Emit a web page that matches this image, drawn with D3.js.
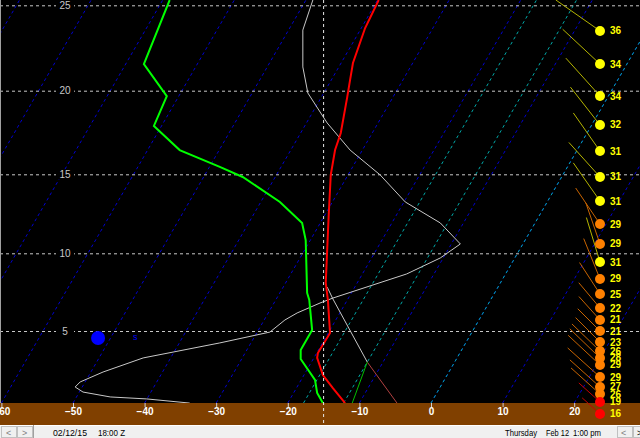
<!DOCTYPE html>
<html>
<head>
<meta charset="utf-8">
<script src="https://cdnjs.cloudflare.com/ajax/libs/d3/7.8.5/d3.min.js"></script>
<style>
  body { margin: 0; background: #f0f0f0; overflow: hidden; }
  svg { display: block; }
  .grid line { stroke: #c8c8c8; stroke-dasharray: 3,3; }
  .grid path { display: none; }
  .x.axis path { display: none; }
  .x.axis line { stroke: #d0d0d0; }
  .x.axis text { fill: #fff; font: bold 10px "Liberation Sans", Arial, sans-serif; }
  .alt-label { fill: #c8c8c8; font: 10px "Liberation Sans", Arial, sans-serif; }
  .wind-label { fill: #ffff00; font: bold 10px "Liberation Sans", Arial, sans-serif; }
  .status { fill: #000; font: 9px "Liberation Sans", Arial, sans-serif; }
</style>
</head>
<body>
<div id="skewt"></div>
<script>
// axis ticks
var tempTicks = [-60, -50, -40, -30, -20, -10, 0, 10, 20];
var altTicks = [5, 10, 15, 20, 25];
// skewed isotherms every 10 C, plus 0F / 10F / 32F lines
var isotherms = d3.range(-100, 30, 10);
var cyanIsotherms = [-17.8, -12.2, 0];
var markerIsotherm = -15;

// profiles: temperature read on the bottom axis (C) and altitude (kft)
var greenTemp = [-36.5, -40.1, -36.9, -38.7, -35.1, -29.5, -26.3, -21.1, -18.0, -17.5, -17.3, -17.0, -16.6, -18.2, -18.2, -16.2, -15.9, -15.1];
var greenAlt  = [25.31, 21.56, 19.68, 17.89, 16.45, 15.44, 14.83, 13.25, 11.92, 10.84, 7.45, 7.0, 5.06, 3.76, 3.17, 1.80, 0.95, 0.29];

var redTemp = [-7.3, -9.2, -10.9, -11.3, -11.7, -12.6, -13.4, -14.0, -14.3, -14.5, -14.7, -14.4, -14.1, -15.8, -15.9, -15.1, -13.7, -12.0];
var redAlt  = [25.31, 23.67, 21.62, 20.63, 19.62, 17.47, 16.45, 14.96, 12.30, 10.21, 8.09, 7.0, 4.87, 3.56, 3.24, 2.12, 1.27, 0.29];

var whiteTemp = [-16.5, -17.9, -17.9, -17.2, -14.5, -11.3, -7.1, -3.6, 1.3, 4.1, 1.3, -3.4, -13.7, -15.5, -18.7, -20.4, -22.5, -29.5, -40.2, -45.8, -49.0, -49.7, -48.6, -44.8, -39.7, -33.7];
var whiteAlt  = [25.31, 23.55, 21.39, 19.86, 18.07, 16.45, 14.96, 13.25, 11.92, 10.59, 9.70, 8.67, 7.12, 6.80, 6.16, 5.71, 4.93, 4.22, 3.24, 2.32, 1.67, 1.34, 1.01, 0.69, 0.56, 0.29];

// surface parcel
var parcelTemp = [-14.5, -13.7, -8.9];
var parcelAlt  = [7.83, 7.06, 2.97];
var dryTemp = [-8.9, -4.75];
var dryAlt  = [2.97, 0.29];
var dewTemp = [-11.0, -8.9];
var dewAlt  = [0.29, 2.97];

// marker
var markerTemp = [-46.5];
var markerAlt = [4.54];

// wind column
var windAlt   = [23.50, 21.56, 19.68, 17.95, 16.39, 14.83, 13.31, 11.85, 10.59, 9.44, 8.35, 7.38, 6.48, 5.71, 5.0, 4.28, 3.69, 3.24, 2.78, 1.99, 1.34, 0.88, 0.36, -0.42];
var windSpeed = [36, 34, 34, 32, 31, 31, 31, 29, 29, 31, 29, 25, 22, 21, 21, 23, 26, 28, 29, 29, 27, 26, 19, 16];
var windDir   = [305, 313, 318, 322, 325, 318, 325, 326, 341, 343, 338, 327, 320, 318, 315, 315, 314, 314, 313, 312, 312, 312, 312, 312];

// status bar texts
var statusLeft = ["02/12/15", "18:00 Z"];
var statusRight = ["Thursday", "Feb 12", "1:00 pm"];

var width = 640, height = 438, plotBottom = 403, bandBottom = 425;
var skew = 0.578;

// set the ranges
var x = d3.scaleLinear().domain([-60, 20]).range([1.4, 574.2]);
var y = d3.scaleLinear().domain([0, 5, 10, 15, 20, 25]).range([407.5, 331, 253.3, 174.3, 90.7, 5.3]);
var stickLen = d3.scaleLinear().domain([0, 40]).range([0, 60]);

function windColor(s) { return s >= 30 ? "#ffff00" : (s >= 20 ? "#ff8000" : "#ff0000"); }
function stickColor(s) { return s >= 30 ? "#b4b400" : (s >= 20 ? "#c86400" : "#c80000"); }

var svg = d3.select("#skewt").append("svg")
    .attr("width", width)
    .attr("height", height);

svg.append("clipPath").attr("id", "plot-clip")
  .append("rect").attr("width", width).attr("height", plotBottom);

svg.append("rect")
    .attr("width", width).attr("height", plotBottom)
    .style("fill", "#000");

var plot = svg.append("g").attr("clip-path", "url(#plot-clip)");

// skewed isotherm line
function isoLine(t) {
  var x0 = x(t);
  return "M" + x0 + "," + plotBottom + "L" + (x0 + skew * (plotBottom + 20)) + ",-20";
}

plot.selectAll(".iso")
    .data(isotherms)
  .enter().append("path")
    .attr("class", "iso")
    .attr("d", isoLine)
    .style("stroke", "#0000d0")
    .style("stroke-dasharray", "3,3")
    .style("fill", "none");

plot.selectAll(".iso-c")
    .data(cyanIsotherms)
  .enter().append("path")
    .attr("class", "iso-c")
    .attr("d", isoLine)
    .style("stroke", "#00a8a8")
    .style("stroke-dasharray", "3,3")
    .style("fill", "none");

//draw y grid
plot.append("g")
    .attr("class", "grid")
    .call(
      d3.axisLeft(y)
        .tickValues(altTicks)
        .tickSize(-width)
        .tickFormat("")
    );

// altitude labels
var altLab = plot.selectAll(".alt")
    .data(altTicks)
  .enter().append("g")
    .attr("class", "alt")
    .attr("transform", function(d) { return "translate(65," + y(d) + ")"; });
altLab.append("rect")
    .attr("x", -9).attr("y", -5).attr("width", 18).attr("height", 10)
    .style("fill", "#000");
altLab.append("text")
    .attr("class", "alt-label")
    .attr("text-anchor", "middle")
    .attr("dy", "0.35em")
    .text(function(d) { return d; });

var line = d3.line()
    .x(function(d) { return x(d[0]); })
    .y(function(d) { return y(d[1]); });

// white profile
plot.append("path")
    .datum(d3.zip(whiteTemp, whiteAlt))
    .attr("d", line)
    .style("stroke", "#c8c8c8")
    .style("fill", "none");

plot.append("path")
    .datum(d3.zip(parcelTemp, parcelAlt))
    .attr("d", line)
    .style("stroke", "#c8c8c8")
    .style("fill", "none");

plot.append("path")
    .datum(d3.zip(dryTemp, dryAlt))
    .attr("d", line)
    .style("stroke", "#b04040")
    .style("fill", "none");

plot.append("path")
    .datum(d3.zip(dewTemp, dewAlt))
    .attr("d", line)
    .style("stroke", "#00c000")
    .style("fill", "none");

// temperature
plot.append("path")
    .datum(d3.zip(redTemp, redAlt))
    .attr("d", line)
    .style("stroke", "#ff0000")
    .style("stroke-width", 2)
    .style("fill", "none");

// dewpoint
plot.append("path")
    .datum(d3.zip(greenTemp, greenAlt))
    .attr("d", line)
    .style("stroke", "#00ff00")
    .style("stroke-width", 2)
    .style("fill", "none");

// blue marker
plot.selectAll(".marker")
    .data(d3.zip(markerTemp, markerAlt))
  .enter().append("circle")
    .attr("cx", function(d) { return x(d[0]); })
    .attr("cy", function(d) { return y(d[1]); })
    .attr("r", 7)
    .style("fill", "#0000ff");
plot.selectAll(".marker-lab")
    .data(d3.zip(markerTemp, markerAlt))
  .enter().append("text")
    .attr("x", function(d) { return x(d[0]) + 35; })
    .attr("y", function(d) { return y(d[1]) + 2; })
    .style("fill", "#0000ff")
    .style("font", "9px 'Liberation Sans', Arial, sans-serif")
    .text("s");

// left border
svg.append("line")
    .attr("x1", 0.5).attr("x2", 0.5).attr("y1", 0).attr("y2", plotBottom)
    .style("stroke", "#a0a0a0");

// ground band
svg.append("rect")
    .attr("y", plotBottom).attr("width", width).attr("height", bandBottom - plotBottom)
    .style("fill", "#804000");

//draw x axis
svg.append("g")
    .attr("class", "x axis")
    .attr("transform", "translate(0," + plotBottom + ")")
    .call(
      d3.axisBottom(x)
        .tickValues(tempTicks)
        .tickSize(4)
        .tickPadding(1)
        .tickFormat(d3.format("d"))
    );

// marker isotherm
svg.append("line")
    .attr("x1", x(markerIsotherm)).attr("x2", x(markerIsotherm))
    .attr("y1", 0).attr("y2", bandBottom)
    .style("stroke", "#e8e8e8")
    .style("stroke-dasharray", "3,3");

// winds
var winds = d3.range(windAlt.length).map(function(i) {
  return { alt: windAlt[i], speed: windSpeed[i], dir: windDir[i] };
});
var windX = 600;

var wg = svg.append("g").attr("class", "winds");
wg.selectAll(".stick")
    .data(winds)
  .enter().append("line")
    .attr("x1", windX)
    .attr("y1", function(d) { return y(d.alt); })
    .attr("x2", function(d) { return windX + Math.sin(d.dir * Math.PI / 180) * stickLen(d.speed); })
    .attr("y2", function(d) { return y(d.alt) - Math.cos(d.dir * Math.PI / 180) * stickLen(d.speed); })
    .style("stroke", function(d) { return stickColor(d.speed); });

wg.selectAll(".dot")
    .data(winds)
  .enter().append("circle")
    .attr("cx", windX)
    .attr("cy", function(d) { return y(d.alt); })
    .attr("r", 5)
    .style("fill", function(d) { return windColor(d.speed); });

wg.selectAll(".wind-label")
    .data(winds)
  .enter().append("text")
    .attr("class", "wind-label")
    .attr("x", windX + 10)
    .attr("y", function(d) { return y(d.alt); })
    .attr("dy", "0.35em")
    .text(function(d) { return d.speed; });

// status bar
var bar = svg.append("g").attr("transform", "translate(0," + bandBottom + ")");
bar.append("rect").attr("width", width).attr("height", height - bandBottom).style("fill", "#f0f0f0");
bar.append("line").attr("x1", 0).attr("x2", width).attr("y1", 0.5).attr("y2", 0.5).style("stroke", "#ffffff");
bar.append("rect").attr("x", 1.5).attr("y", 1.5).attr("width", 15).attr("height", 11).style("fill", "none").style("stroke", "#c0c0c0");
bar.append("rect").attr("x", 17.5).attr("y", 1.5).attr("width", 15).attr("height", 11).style("fill", "none").style("stroke", "#c0c0c0");
bar.append("rect").attr("x", 617.5).attr("y", 1.5).attr("width", 15).attr("height", 11).style("fill", "none").style("stroke", "#c0c0c0");
bar.append("rect").attr("x", 633.5).attr("y", 1.5).attr("width", 15).attr("height", 11).style("fill", "none").style("stroke", "#c0c0c0");
bar.append("line").attr("x1", 33.5).attr("x2", 33.5).attr("y1", 0).attr("y2", 13).style("stroke", "#a0a0a0");
bar.append("text").attr("class", "status").attr("x", 6).attr("y", 10.5).style("fill", "#808080").text("<");
bar.append("text").attr("class", "status").attr("x", 22).attr("y", 10.5).style("fill", "#808080").text(">");
bar.append("text").attr("class", "status").attr("x", 621).attr("y", 10.5).style("fill", "#808080").text("<");
bar.append("text").attr("class", "status").attr("x", 637).attr("y", 10.5).text(">");

var leftX = [53, 98], leftW = [34, 27];
bar.selectAll(".sl")
    .data(statusLeft)
  .enter().append("text")
    .attr("class", "status")
    .attr("x", function(d, i) { return leftX[i]; })
    .attr("y", 10.5)
    .attr("textLength", function(d, i) { return leftW[i]; })
    .attr("lengthAdjust", "spacingAndGlyphs")
    .text(function(d) { return d; });

var rightX = [505, 546, 573], rightW = [32, 23, 28];
bar.selectAll(".sr")
    .data(statusRight)
  .enter().append("text")
    .attr("class", "status")
    .attr("x", function(d, i) { return rightX[i]; })
    .attr("y", 10.5)
    .attr("textLength", function(d, i) { return rightW[i]; })
    .attr("lengthAdjust", "spacingAndGlyphs")
    .text(function(d) { return d; });
</script>
</body>
</html>
